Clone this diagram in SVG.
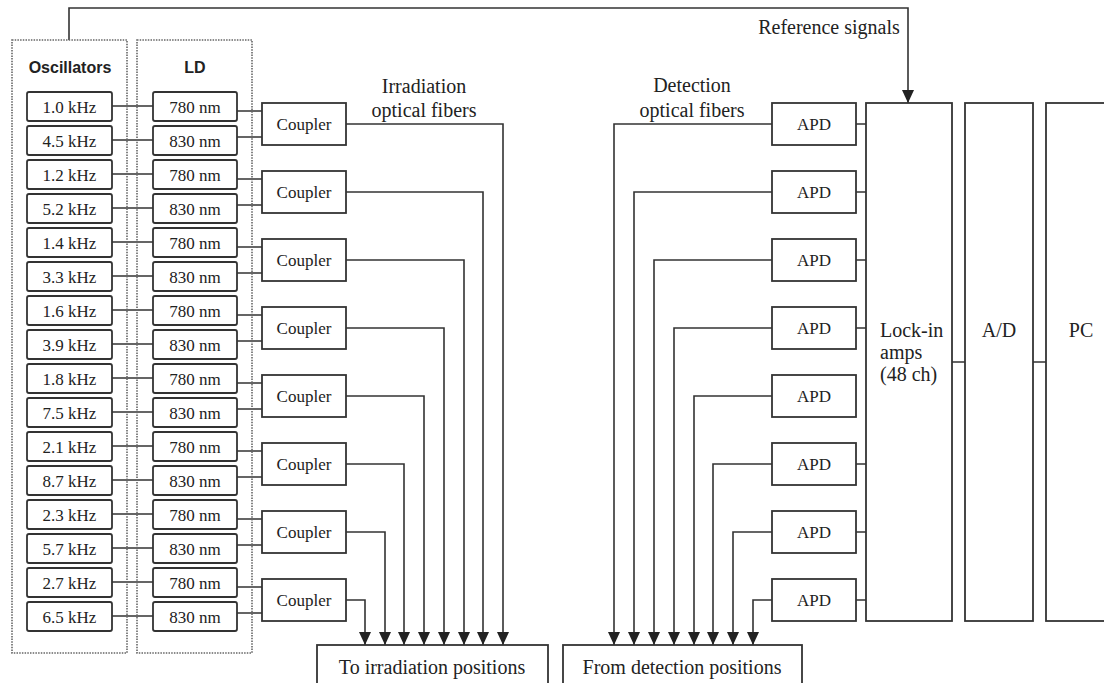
<svg xmlns="http://www.w3.org/2000/svg" width="1104" height="683" viewBox="0 0 1104 683">
<defs>
<style>
.bx{fill:#fff;stroke:#333;stroke-width:1.8}
.grp{fill:none;stroke:#666;stroke-width:1.6;stroke-dasharray:1.5 1.2}
.ln{fill:none;stroke:#333;stroke-width:1.6}
.t{font-family:"Liberation Serif","Times New Roman",serif;font-size:17px;fill:#222;text-anchor:middle}
.lb{font-family:"Liberation Serif","Times New Roman",serif;font-size:20px;fill:#222;text-anchor:middle}
.hd{font-family:"Liberation Sans",Arial,sans-serif;font-size:16px;font-weight:bold;fill:#222;text-anchor:middle}
</style>
<marker id="ah" viewBox="0 0 13 12" refX="13" refY="6" markerWidth="13" markerHeight="12" markerUnits="userSpaceOnUse" orient="auto">
<path d="M0,0 L13,6 L0,12 z" fill="#222"/>
</marker>
</defs>
<rect width="1104" height="683" fill="#fff"/>

<g id="connectors">
<!-- reference signal -->
<path class="ln" d="M69,40 V8 H908 V103" marker-end="url(#ah)"/>
<!-- oscillator to LD -->
<path class="ln" d="M112,106H153M112,140H153M112,174H153M112,208H153M112,242H153M112,276H153M112,310H153M112,344H153M112,378H153M112,412H153M112,446H153M112,480H153M112,514H153M112,548H153M112,582H153M112,616H153"/>
<!-- LD to couplers -->
<path class="ln" d="M237,111H262M237,137H262M237,179H262M237,205H262M237,247H262M237,273H262M237,315H262M237,341H262M237,383H262M237,409H262M237,451H262M237,477H262M237,519H262M237,545H262M237,587H262M237,613H262"/>
<!-- irradiation fibers -->
<path class="ln" d="M346,124H503V645" marker-end="url(#ah)"/>
<path class="ln" d="M346,192H483V645" marker-end="url(#ah)"/>
<path class="ln" d="M346,260H464V645" marker-end="url(#ah)"/>
<path class="ln" d="M346,328H444V645" marker-end="url(#ah)"/>
<path class="ln" d="M346,396H424V645" marker-end="url(#ah)"/>
<path class="ln" d="M346,464H404V645" marker-end="url(#ah)"/>
<path class="ln" d="M346,532H385V645" marker-end="url(#ah)"/>
<path class="ln" d="M346,600H365V645" marker-end="url(#ah)"/>
<!-- detection fibers -->
<path class="ln" d="M772,124H614V645" marker-end="url(#ah)"/>
<path class="ln" d="M772,192H634V645" marker-end="url(#ah)"/>
<path class="ln" d="M772,260H654V645" marker-end="url(#ah)"/>
<path class="ln" d="M772,328H674V645" marker-end="url(#ah)"/>
<path class="ln" d="M772,396H694V645" marker-end="url(#ah)"/>
<path class="ln" d="M772,464H713V645" marker-end="url(#ah)"/>
<path class="ln" d="M772,532H733V645" marker-end="url(#ah)"/>
<path class="ln" d="M772,600H753V645" marker-end="url(#ah)"/>
<!-- APD to lock-in -->
<path class="ln" d="M856,124H866M856,192H866M856,260H866M856,328H866M856,464H866M856,532H866M856,600H866"/>
<!-- lock-in to A/D to PC -->
<path class="ln" d="M952,362H965M1033,362H1046"/>
</g>

<g id="oscillators">
<rect class="grp" x="12" y="40" width="115" height="613"/>
<text class="hd" x="70" y="73">Oscillators</text>
<g id="osc-boxes">
<rect class="bx" x="27" y="92" width="85" height="29" rx="2"/><text class="t" x="69.5" y="112.5">1.0 kHz</text>
<rect class="bx" x="27" y="126" width="85" height="29" rx="2"/><text class="t" x="69.5" y="146.5">4.5 kHz</text>
<rect class="bx" x="27" y="160" width="85" height="29" rx="2"/><text class="t" x="69.5" y="180.5">1.2 kHz</text>
<rect class="bx" x="27" y="194" width="85" height="29" rx="2"/><text class="t" x="69.5" y="214.5">5.2 kHz</text>
<rect class="bx" x="27" y="228" width="85" height="29" rx="2"/><text class="t" x="69.5" y="248.5">1.4 kHz</text>
<rect class="bx" x="27" y="262" width="85" height="29" rx="2"/><text class="t" x="69.5" y="282.5">3.3 kHz</text>
<rect class="bx" x="27" y="296" width="85" height="29" rx="2"/><text class="t" x="69.5" y="316.5">1.6 kHz</text>
<rect class="bx" x="27" y="330" width="85" height="29" rx="2"/><text class="t" x="69.5" y="350.5">3.9 kHz</text>
<rect class="bx" x="27" y="364" width="85" height="29" rx="2"/><text class="t" x="69.5" y="384.5">1.8 kHz</text>
<rect class="bx" x="27" y="398" width="85" height="29" rx="2"/><text class="t" x="69.5" y="418.5">7.5 kHz</text>
<rect class="bx" x="27" y="432" width="85" height="29" rx="2"/><text class="t" x="69.5" y="452.5">2.1 kHz</text>
<rect class="bx" x="27" y="466" width="85" height="29" rx="2"/><text class="t" x="69.5" y="486.5">8.7 kHz</text>
<rect class="bx" x="27" y="500" width="85" height="29" rx="2"/><text class="t" x="69.5" y="520.5">2.3 kHz</text>
<rect class="bx" x="27" y="534" width="85" height="29" rx="2"/><text class="t" x="69.5" y="554.5">5.7 kHz</text>
<rect class="bx" x="27" y="568" width="85" height="29" rx="2"/><text class="t" x="69.5" y="588.5">2.7 kHz</text>
<rect class="bx" x="27" y="602" width="85" height="29" rx="2"/><text class="t" x="69.5" y="622.5">6.5 kHz</text>
</g>
</g>

<g id="ld">
<rect class="grp" x="137" y="40" width="115" height="613"/>
<text class="hd" x="195" y="73">LD</text>
<g id="ld-boxes">
<rect class="bx" x="153" y="92" width="84" height="29" rx="2"/><text class="t" x="195" y="112.5">780 nm</text>
<rect class="bx" x="153" y="126" width="84" height="29" rx="2"/><text class="t" x="195" y="146.5">830 nm</text>
<rect class="bx" x="153" y="160" width="84" height="29" rx="2"/><text class="t" x="195" y="180.5">780 nm</text>
<rect class="bx" x="153" y="194" width="84" height="29" rx="2"/><text class="t" x="195" y="214.5">830 nm</text>
<rect class="bx" x="153" y="228" width="84" height="29" rx="2"/><text class="t" x="195" y="248.5">780 nm</text>
<rect class="bx" x="153" y="262" width="84" height="29" rx="2"/><text class="t" x="195" y="282.5">830 nm</text>
<rect class="bx" x="153" y="296" width="84" height="29" rx="2"/><text class="t" x="195" y="316.5">780 nm</text>
<rect class="bx" x="153" y="330" width="84" height="29" rx="2"/><text class="t" x="195" y="350.5">830 nm</text>
<rect class="bx" x="153" y="364" width="84" height="29" rx="2"/><text class="t" x="195" y="384.5">780 nm</text>
<rect class="bx" x="153" y="398" width="84" height="29" rx="2"/><text class="t" x="195" y="418.5">830 nm</text>
<rect class="bx" x="153" y="432" width="84" height="29" rx="2"/><text class="t" x="195" y="452.5">780 nm</text>
<rect class="bx" x="153" y="466" width="84" height="29" rx="2"/><text class="t" x="195" y="486.5">830 nm</text>
<rect class="bx" x="153" y="500" width="84" height="29" rx="2"/><text class="t" x="195" y="520.5">780 nm</text>
<rect class="bx" x="153" y="534" width="84" height="29" rx="2"/><text class="t" x="195" y="554.5">830 nm</text>
<rect class="bx" x="153" y="568" width="84" height="29" rx="2"/><text class="t" x="195" y="588.5">780 nm</text>
<rect class="bx" x="153" y="602" width="84" height="29" rx="2"/><text class="t" x="195" y="622.5">830 nm</text>
</g>
</g>

<g id="couplers">
<rect class="bx" x="262" y="103" width="84" height="42"/><text class="t" x="304" y="130">Coupler</text>
<rect class="bx" x="262" y="171" width="84" height="42"/><text class="t" x="304" y="198">Coupler</text>
<rect class="bx" x="262" y="239" width="84" height="42"/><text class="t" x="304" y="266">Coupler</text>
<rect class="bx" x="262" y="307" width="84" height="42"/><text class="t" x="304" y="334">Coupler</text>
<rect class="bx" x="262" y="375" width="84" height="42"/><text class="t" x="304" y="402">Coupler</text>
<rect class="bx" x="262" y="443" width="84" height="42"/><text class="t" x="304" y="470">Coupler</text>
<rect class="bx" x="262" y="511" width="84" height="42"/><text class="t" x="304" y="538">Coupler</text>
<rect class="bx" x="262" y="579" width="84" height="42"/><text class="t" x="304" y="606">Coupler</text>
</g>

<g id="apds">
<rect class="bx" x="772" y="103" width="84" height="42"/><text class="t" x="814" y="130">APD</text>
<rect class="bx" x="772" y="171" width="84" height="42"/><text class="t" x="814" y="198">APD</text>
<rect class="bx" x="772" y="239" width="84" height="42"/><text class="t" x="814" y="266">APD</text>
<rect class="bx" x="772" y="307" width="84" height="42"/><text class="t" x="814" y="334">APD</text>
<rect class="bx" x="772" y="375" width="84" height="42"/><text class="t" x="814" y="402">APD</text>
<rect class="bx" x="772" y="443" width="84" height="42"/><text class="t" x="814" y="470">APD</text>
<rect class="bx" x="772" y="511" width="84" height="42"/><text class="t" x="814" y="538">APD</text>
<rect class="bx" x="772" y="579" width="84" height="42"/><text class="t" x="814" y="606">APD</text>
</g>

<g id="lockin">
<rect class="bx" x="866" y="103" width="86" height="518"/>
<text class="lb" x="880" y="337" style="text-anchor:start">Lock-in</text>
<text class="lb" x="880" y="359" style="text-anchor:start">amps</text>
<text class="lb" x="880" y="381" style="text-anchor:start">(48 ch)</text>
</g>
<g id="ad">
<rect class="bx" x="965" y="103" width="68" height="518"/>
<text class="lb" x="999" y="337">A/D</text>
</g>
<g id="pc">
<rect class="bx" x="1046" y="103" width="70" height="518"/>
<text class="lb" x="1081" y="337">PC</text>
</g>

<g id="to-irradiation">
<rect class="bx" x="317" y="645" width="231" height="50"/>
<text class="lb" x="432" y="674">To irradiation positions</text>
</g>
<g id="from-detection">
<rect class="bx" x="563" y="645" width="239" height="50"/>
<text class="lb" x="682" y="674">From detection positions</text>
</g>

<g id="labels">
<text class="lb" x="829" y="34">Reference signals</text>
<text class="lb" x="424" y="93">Irradiation</text>
<text class="lb" x="424" y="117">optical fibers</text>
<text class="lb" x="692" y="92">Detection</text>
<text class="lb" x="692" y="117">optical fibers</text>
</g>
</svg>
